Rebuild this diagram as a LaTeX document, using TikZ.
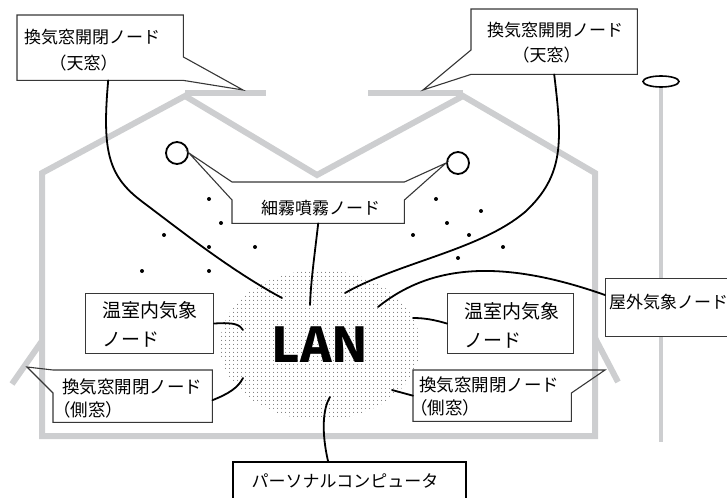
\documentclass[tikz,border=0pt]{standalone}
\usepackage{fontspec}
\setmainfont{Noto Sans CJK JP}
\usetikzlibrary{calc,shapes.geometric,patterns.meta}
\definecolor{HouseGray}{RGB}{205,206,208}
\definecolor{BoxGray}{RGB}{55,55,55}
\definecolor{DotGray}{RGB}{105,105,105}
\tikzdeclarepattern{
  name=landots,
  type=uncolored,
  bottom left={(0pt,0pt)},
  top right={(4bp,4bp)},
  tile size={(4bp,4bp)},
  code={\fill (2bp,2bp) circle [radius=.62bp];}
}
\newcommand{\jpsize}[2]{\fontsize{#1bp}{#2bp}\selectfont}

\begin{document}
\begin{tikzpicture}[x=1bp,y=-1bp,
  house/.style={HouseGray,line width=6bp,line join=miter},
  wire/.style={line width=1.8bp,line cap=round},
  card/.style={anchor=north west,inner sep=0pt,fill=white},
  outline/.style={draw=BoxGray,line width=1.1bp},
  tag/.style={anchor=base west,align=left,inner sep=0pt,font=\jpsize{17}{26}},
  nozzle/.style={circle,draw,line width=1.8bp,fill=white,minimum size=22bp,inner sep=0pt}]
\useasboundingbox (0,0) rectangle (727,498);
% greenhouse frame, roof and side vents, outside pole
\draw[house] (42,436) -- (42,173) -- (185,96) -- (317,175) -- (463,96) -- (595,173) -- (595,436) -- cycle;
\draw[house] (185,93) -- (266,93) (368,93) -- (463,93);
\draw[house] (42,341) -- (12,384) (595,338) -- (618,382);
\draw[house,line width=4.5bp] (661,87) -- (661,442);
\node[ellipse,draw,line width=1.6bp,minimum width=36bp,minimum height=11bp,inner sep=0pt] (sensor) at (661,81.5) {};
\coordinate (roofL) at (243,90);
\coordinate (roofR) at (423,90);
\coordinate (wallL) at (27,367);
\coordinate (wallR) at (605,370);
% mist droplets and nozzles
\foreach \p in {(209,199),(221,223),(164,235),(209,247),(255,247),(142,271),(209,271),
  (436,199),(481,211),(447,223),(413,235),(469,235),(503,247),(458,258)}
  \fill \p circle (2);
\node[nozzle] (nozL) at (177,153) {};
\node[nozzle] (nozR) at (458,163) {};
% LAN
\node[ellipse,minimum width=200bp,minimum height=150bp,pattern=landots,pattern color=DotGray,font=\jpsize{48}{48}\bfseries] (lan) at (320,345) {LAN};
\foreach \n/\p in {VL/{-38,-47},Mist/{-10,-40},VR/{25,-52},Out/{58,-38},TL/{-77,-15},SL/{-77,33},TR/{93,-27},SR/{72,45},PC/{10,52}}
  \coordinate (lan\n) at ($(lan)+(\p)$);
% boxes
\node[card,minimum width=166bp,minimum height=65bp] (ventL) at (17,15) {};
\node[card,minimum width=166bp,minimum height=65bp] (ventR) at (471,9) {};
\node[card,minimum width=172bp,minimum height=41bp] (mist) at (232,182) {};
\node[card,outline,minimum width=128bp,minimum height=60bp] (tempL) at (85,293) {};
\node[card,outline,minimum width=126bp,minimum height=60bp] (tempR) at (447,293) {};
\node[card,minimum width=159bp,minimum height=52bp] (sideL) at (53,370) {};
\node[card,minimum width=158bp,minimum height=51bp] (sideR) at (413,370) {};
\node[card,outline,minimum width=165bp,minimum height=58bp] (outdoor) at (605,278) {};
\node[card,draw,line width=1.8bp,minimum width=233bp,minimum height=70bp] (pc) at (232,461) {};
\draw[outline] (ventL.north west) -- (ventL.north east) -- ($(ventL.north east)+(0,42)$) -- (roofL) -- (ventL.south east) -- (ventL.south west) -- cycle;
\draw[outline] (ventR.north west) -- (ventR.north east) -- (ventR.south east) -- (ventR.south west) -- (roofR) -- ($(ventR.north west)+(0,41)$) -- cycle;
\draw[outline] (mist.north west) -- (mist.north east) -- (nozR.west) -- ($(mist.north east)+(0,18)$) -- (mist.south east) -- (mist.south west) -- ($(mist.north west)+(0,18)$) -- (nozL.east) -- cycle;
\draw[outline] (sideL.north west) -- (sideL.north east) -- (sideL.south east) -- (sideL.south west) -- ($(sideL.north west)+(0,23)$) -- (wallL) -- cycle;
\draw[outline] (sideR.north west) -- (sideR.north east) -- (wallR) -- ($(sideR.north east)+(0,23)$) -- (sideR.south east) -- (sideR.south west) -- cycle;
% labels (base = last line)
\node[tag] (ventLtxt) at (24,70) {換気窓開閉ノード\\\hspace*{1.5em}（天窓）};
\node[tag,font=\jpsize{17}{25}] (ventRtxt) at (487,61.5) {換気窓開閉ノード\\\hspace*{1.5em}（天窓）};
\node[tag] (misttxt) at (261,215) {細霧噴霧ノード};
\node[tag,font=\jpsize{19}{29}] (tempLtxt) at (102,346) {温室内気象\\ノード};
\node[tag,font=\jpsize{19}{29}] (tempRtxt) at (464,347) {温室内気象\\ノード};
\node[tag,font=\jpsize{17.5}{23}] (sideLtxt) at (62,416) {換気窓開閉ノード\\\hspace*{-.5em}（側窓）};
\node[tag,font=\jpsize{17.5}{23}] (sideRtxt) at (419,414) {換気窓開閉ノード\\\hspace*{-.5em}（側窓）};
\node[tag] (outdoortxt) at (609,308) {屋外気象ノード};
\node[tag] (pctxt) at (251.5,487) {パーソナルコンピュータ};
% wiring to the LAN
\draw[wire] ($(ventL.south)+(8,0)$) .. controls (102,150) and (108,175) .. (140,200) .. controls (180,230) and (230,270) .. (lanVL);
\draw[wire] (ventR.south) .. controls (562,140) and (565,175) .. (525,212) .. controls (480,250) and (400,262) .. (lanVR);
\draw[wire] (mist.south) .. controls (314,260) and (311,280) .. (lanMist);
\draw[wire] (tempL.east) .. controls (235,322) and (240,325) .. (lanTL);
\draw[wire] ($(sideL.east)+(0,4)$) .. controls (228,394) and (238,388) .. (lanSL);
\draw[wire] (tempR.west) .. controls (435,320) and (425,318) .. (lanTR);
\draw[wire] (sideR.west) -- (lanSR);
\draw[wire] ($(outdoor.north west)+(0,17)$) .. controls (500,258) and (430,265) .. (lanOut);
\draw[wire] ($(pc.north west)+(96,0)$) .. controls (322,435) and (322,410) .. (lanPC);
\end{tikzpicture}
\end{document}
